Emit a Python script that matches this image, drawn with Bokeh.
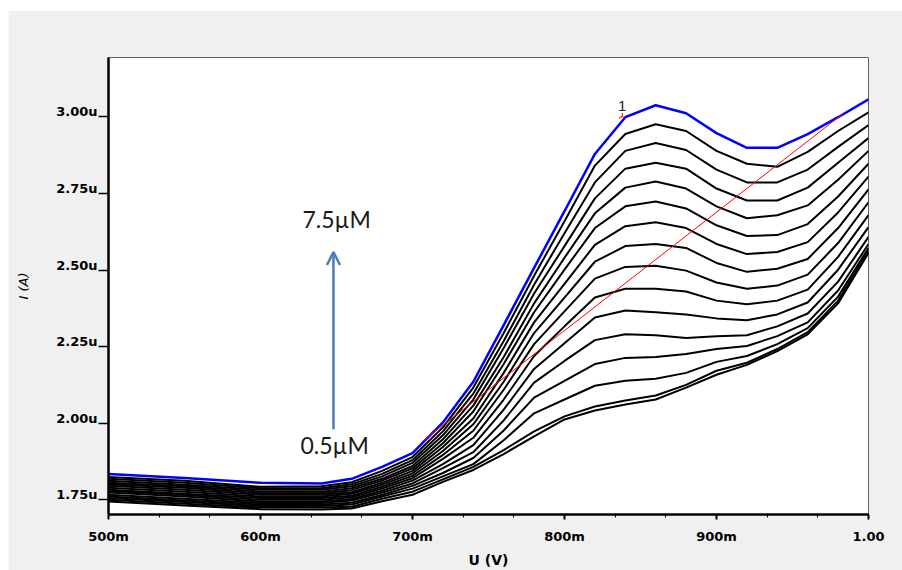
from bokeh.plotting import figure
from bokeh.models import (Range1d, SingleIntervalTicker, CustomJSTickFormatter,
                          Arrow, OpenHead, Spacer, LinearAxis)
from bokeh.layouts import column, row
from bokeh.embed import file_html
from bokeh.resources import INLINE
from bokeh.core.properties import value

# potential (V)
potential_V = [0.50, 0.55, 0.60, 0.64, 0.66, 0.68, 0.70, 0.72, 0.74, 0.76, 0.78,
               0.80, 0.82, 0.84, 0.86, 0.88, 0.90, 0.92, 0.94, 0.96, 0.98, 1.00]

# currents (uA), from the lowest curve up to the highest (blue) curve
i_01 = [1.744, 1.731, 1.719, 1.718, 1.721, 1.745, 1.766, 1.808, 1.847, 1.899, 1.957, 2.012, 2.041, 2.061, 2.077, 2.116, 2.158, 2.190, 2.235, 2.290, 2.391, 2.556]
i_02 = [1.750, 1.737, 1.724, 1.724, 1.727, 1.753, 1.776, 1.816, 1.857, 1.912, 1.973, 2.022, 2.054, 2.074, 2.090, 2.125, 2.171, 2.197, 2.242, 2.297, 2.400, 2.562]
i_03 = [1.755, 1.742, 1.729, 1.729, 1.734, 1.760, 1.786, 1.826, 1.866, 1.944, 2.032, 2.077, 2.122, 2.138, 2.145, 2.164, 2.200, 2.219, 2.258, 2.310, 2.413, 2.572]
i_04 = [1.760, 1.747, 1.734, 1.734, 1.740, 1.766, 1.795, 1.837, 1.886, 1.976, 2.083, 2.138, 2.193, 2.213, 2.216, 2.226, 2.242, 2.252, 2.284, 2.329, 2.433, 2.585]
i_05 = [1.766, 1.753, 1.739, 1.739, 1.747, 1.773, 1.803, 1.853, 1.905, 2.009, 2.132, 2.203, 2.271, 2.290, 2.287, 2.278, 2.284, 2.287, 2.316, 2.358, 2.462, 2.608]
i_06 = [1.773, 1.760, 1.744, 1.744, 1.752, 1.779, 1.812, 1.866, 1.928, 2.044, 2.177, 2.261, 2.345, 2.368, 2.362, 2.355, 2.342, 2.336, 2.355, 2.394, 2.501, 2.640]
i_07 = [1.778, 1.765, 1.750, 1.750, 1.758, 1.786, 1.820, 1.883, 1.952, 2.077, 2.219, 2.316, 2.410, 2.439, 2.439, 2.430, 2.400, 2.388, 2.400, 2.436, 2.543, 2.679]
i_08 = [1.782, 1.769, 1.755, 1.755, 1.763, 1.792, 1.828, 1.896, 1.975, 2.109, 2.258, 2.365, 2.472, 2.510, 2.514, 2.498, 2.459, 2.439, 2.449, 2.485, 2.588, 2.721]
i_09 = [1.789, 1.776, 1.760, 1.760, 1.769, 1.799, 1.836, 1.909, 1.996, 2.135, 2.294, 2.410, 2.527, 2.578, 2.585, 2.572, 2.523, 2.494, 2.504, 2.536, 2.637, 2.763]
i_10 = [1.795, 1.782, 1.766, 1.766, 1.774, 1.805, 1.844, 1.922, 2.015, 2.164, 2.329, 2.455, 2.582, 2.643, 2.656, 2.637, 2.585, 2.552, 2.559, 2.591, 2.688, 2.805]
i_11 = [1.800, 1.789, 1.771, 1.771, 1.781, 1.812, 1.852, 1.934, 2.038, 2.193, 2.362, 2.501, 2.637, 2.708, 2.724, 2.701, 2.646, 2.611, 2.614, 2.650, 2.740, 2.847]
i_12 = [1.805, 1.794, 1.776, 1.776, 1.787, 1.818, 1.860, 1.947, 2.057, 2.216, 2.391, 2.540, 2.685, 2.769, 2.789, 2.766, 2.708, 2.669, 2.679, 2.711, 2.795, 2.889]
i_13 = [1.812, 1.799, 1.782, 1.782, 1.794, 1.826, 1.870, 1.960, 2.077, 2.245, 2.423, 2.578, 2.734, 2.831, 2.850, 2.831, 2.766, 2.727, 2.727, 2.769, 2.850, 2.931]
i_14 = [1.818, 1.805, 1.787, 1.787, 1.800, 1.834, 1.879, 1.973, 2.096, 2.268, 2.452, 2.620, 2.786, 2.889, 2.915, 2.892, 2.828, 2.786, 2.786, 2.828, 2.902, 2.973]
i_15 = [1.824, 1.812, 1.792, 1.794, 1.807, 1.844, 1.889, 1.986, 2.116, 2.294, 2.481, 2.659, 2.841, 2.944, 2.976, 2.954, 2.889, 2.847, 2.837, 2.886, 2.954, 3.015]
i_16 = [1.834, 1.821, 1.805, 1.803, 1.818, 1.857, 1.902, 2.002, 2.135, 2.320, 2.507, 2.692, 2.879, 2.999, 3.038, 3.012, 2.947, 2.899, 2.899, 2.944, 2.999, 3.057]

black_curves = [i_01, i_02, i_03, i_04, i_05, i_06, i_07, i_08, i_09, i_10,
                i_11, i_12, i_13, i_14, i_15]

# red baseline (two end points) and cursor "1"
baseline_V = [0.7066, 0.9836]
baseline_uA = [1.941, 3.012]
cursor_V = [0.838]
cursor_uA = [3.002]
cursor_text = ["1"]
cursor_text_uA = [3.037]

# concentration annotation
conc_text = ["7.5\u00b5M", "0.5\u00b5M"]
conc_V = [0.6276, 0.6263]
conc_uA = [2.666, 1.928]
arrow_V = 0.648
arrow_from_uA = 1.980
arrow_to_uA = 2.559

# axes
x_range = (0.5, 1.0)
y_range = (1.7015, 3.194)
frame_w, frame_h = 760, 461

p = figure(width=894, height=560, output_backend="svg", toolbar_location=None,
           x_range=Range1d(*x_range), y_range=Range1d(*y_range),
           min_border_left=100, min_border_right=34,
           min_border_top=47, min_border_bottom=52,
           background_fill_color="white", border_fill_color="#f0f0f0",
           outline_line_color="#606060", outline_line_width=1)
p.xgrid.visible = False
p.ygrid.visible = False

for c in black_curves:
    p.line(potential_V, c, line_color="black", line_width=2)
p.line(potential_V, i_16, line_color="#0000ff", line_width=2.5)
p.line(baseline_V, baseline_uA, line_color="#ff0000", line_width=1)
p.scatter(cursor_V, cursor_uA, marker="y", size=7, line_color="#ff0000",
          line_width=1, angle=3.14159)
p.text(cursor_V, cursor_text_uA, text=cursor_text, text_font=value("Liberation Sans"),
       text_font_size="15px", text_align="center", text_baseline="middle",
       text_color="#222222")

p.text(conc_V, conc_uA, text=conc_text, text_font=value("Lato"),
       text_font_size="23px", text_align="left", text_baseline="middle",
       text_color="#1a1a1a")
p.add_layout(Arrow(end=OpenHead(size=13, line_color="#4a7ebb", line_width=2.5),
                   x_start=arrow_V, y_start=arrow_from_uA,
                   x_end=arrow_V, y_end=arrow_to_uA,
                   line_color="#4a7ebb", line_width=2.5))

xa = p.xaxis[0]
xa.ticker = SingleIntervalTicker(interval=0.1, num_minor_ticks=3)
xa.formatter = CustomJSTickFormatter(
    code="return tick >= 0.9995 ? tick.toFixed(2) : Math.round(tick*1000) + 'm';")
xa.axis_label = "U (V)"
xa.axis_line_width = 2.5
xa.axis_line_color = "black"
xa.major_tick_out = 5
xa.major_tick_in = 0
xa.minor_tick_out = 3
xa.minor_tick_in = 0
xa.major_tick_line_width = 2
xa.major_label_standoff = 9
xa.major_label_text_font = "DejaVu Sans"
xa.major_label_text_font_style = "bold"
xa.major_label_text_font_size = "13px"
xa.major_label_text_color = "black"
xa.axis_label_standoff = 5
xa.axis_label_text_font = "DejaVu Sans"
xa.axis_label_text_font_style = "bold"
xa.axis_label_text_font_size = "14px"
xa.axis_label_text_color = "black"

# inner y axis: line and ticks only
ya = p.yaxis[0]
ya.ticker = SingleIntervalTicker(interval=0.25, num_minor_ticks=0)
ya.formatter = CustomJSTickFormatter(code="return '';")
ya.axis_line_width = 2.5
ya.axis_line_color = "black"
ya.major_tick_out = 10
ya.major_tick_in = 0
ya.major_tick_line_width = 1.5
ya.minor_tick_out = 0
ya.major_label_standoff = 0

# outer y axis: labels only, lifted so that their baseline sits on the ticks
lift = 5.0 * (y_range[1] - y_range[0]) / frame_h
p.extra_y_ranges = {"lbl": Range1d(y_range[0] - lift, y_range[1] - lift)}
ya2 = LinearAxis(y_range_name="lbl",
                 ticker=SingleIntervalTicker(interval=0.25, num_minor_ticks=0),
                 formatter=CustomJSTickFormatter(code="return tick.toFixed(2) + 'u';"))
ya2.axis_line_color = None
ya2.major_tick_line_color = None
ya2.minor_tick_line_color = None
ya2.major_tick_out = 0
ya2.major_tick_in = 0
ya2.minor_tick_out = 0
ya2.minor_tick_in = 0
ya2.major_label_standoff = 1
ya2.major_label_text_font = "DejaVu Sans"
ya2.major_label_text_font_style = "bold"
ya2.major_label_text_font_size = "13px"
ya2.major_label_text_color = "black"
ya2.axis_label = "I (A)"
ya2.axis_label_standoff = 22
ya2.axis_label_text_font = "DejaVu Sans"
ya2.axis_label_text_font_style = "italic"
ya2.axis_label_text_font_size = "13px"
ya2.axis_label_text_color = "black"
p.add_layout(ya2, "left")

layout = column(Spacer(height=10, width=902),
                row(Spacer(width=8, height=560), p))

open("out.html", "w").write(file_html(layout, INLINE))
